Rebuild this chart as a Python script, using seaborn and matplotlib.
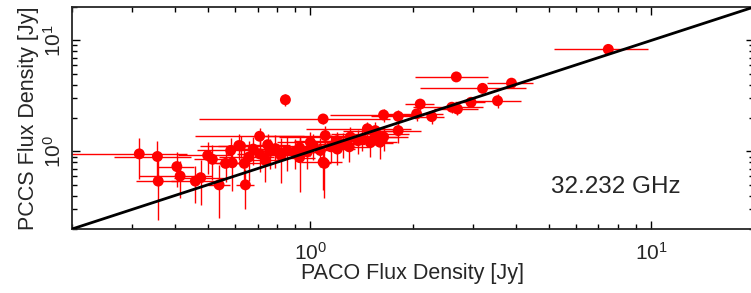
import numpy as np
import pandas as pd
import matplotlib
matplotlib.use("Agg")
import matplotlib.pyplot as plt
import seaborn as sns

sns.set_style("ticks")
plt.rcParams["font.family"] = ["Liberation Sans", "DejaVu Sans"]
plt.rcParams["mathtext.fontset"] = "custom"
plt.rcParams["mathtext.rm"] = "Liberation Sans"
plt.rcParams["axes.linewidth"] = 1.3

# PACO vs PCCS flux densities at 32.232 GHz
paco_flux = [0.315, 0.356, 0.358, 0.406, 0.415, 0.46, 0.477, 0.50, 0.516, 0.54,
             0.564, 0.584, 0.59, 0.617, 0.624, 0.64, 0.645, 0.66, 0.68, 0.71,
             0.71, 0.738, 0.75, 0.76, 0.79, 0.82, 0.845, 0.855, 0.90, 0.93,
             0.93, 0.98, 1.0, 1.02, 1.07, 1.09, 1.09, 1.10, 1.106, 1.15,
             1.197, 1.2, 1.25, 1.3, 1.31, 1.38, 1.42, 1.47, 1.5, 1.55,
             1.55, 1.6, 1.64, 1.64, 1.81, 1.81, 2.05, 2.10, 2.27, 2.6,
             2.70, 2.68, 2.96, 3.2, 3.54, 3.89, 7.48]
pccs_flux = [0.95, 0.90, 0.54, 0.73, 0.60, 0.54, 0.58, 0.92, 0.85, 0.50,
             0.78, 1.02, 0.79, 1.13, 1.12, 0.78, 0.50, 0.89, 1.05, 1.37,
             0.95, 0.83, 1.15, 1.0, 1.06, 0.92, 2.92, 1.02, 0.99, 0.88,
             1.08, 0.99, 1.21, 1.13, 1.02, 1.96, 0.80, 0.78, 1.39, 1.1,
             1.25, 1.05, 1.17, 1.1, 1.35, 1.25, 1.3, 1.6, 1.2, 1.44,
             1.54, 1.21, 2.13, 1.35, 2.07, 1.54, 2.18, 2.67, 2.06, 2.5,
             2.41, 4.69, 2.77, 3.70, 2.86, 4.12, 8.3]
paco_err = [0.12, 0.09, 0.05, 0.05, 0.10, 0.07, 0.08, 0.09, 0.06, 0.04,
            0.05, 0.12, 0.06, 0.08, 0.15, 0.10, 0.04, 0.12, 0.10, 0.25,
            0.10, 0.08, 0.12, 0.10, 0.15, 0.12, 0.02, 0.10, 0.15, 0.10,
            0.12, 0.10, 0.20, 0.30, 0.15, 0.62, 0.15, 0.05, 0.40, 0.20,
            0.30, 0.15, 0.20, 0.20, 0.50, 0.30, 0.20, 0.50, 0.25, 0.40,
            0.30, 0.20, 0.50, 0.30, 0.30, 0.30, 0.40, 0.20, 0.20, 0.60,
            0.40, 0.65, 0.30, 1.10, 0.60, 0.60, 2.30]
pccs_err = [0.38, 0.35, 0.30, 0.25, 0.22, 0.20, 0.25, 0.30, 0.30, 0.25,
            0.25, 0.30, 0.35, 0.30, 0.25, 0.30, 0.20, 0.35, 0.30, 0.25,
            0.30, 0.30, 0.30, 0.30, 0.35, 0.40, 0.35, 0.35, 0.30, 0.45,
            0.30, 0.30, 0.30, 0.30, 0.30, 0.20, 0.35, 0.40, 0.30, 0.30,
            0.25, 0.30, 0.30, 0.30, 0.30, 0.30, 0.30, 0.25, 0.30, 0.30,
            0.30, 0.35, 0.30, 0.35, 0.30, 0.35, 0.30, 0.30, 0.30, 0.30,
            0.30, 0.20, 0.20, 0.30, 0.40, 0.20, 0.30]
axis_range = [0.2, 20]

df = pd.DataFrame({"PACO": paco_flux, "PCCS": pccs_flux,
                   "PACO_err": paco_err, "PCCS_err": pccs_err})

fig = plt.figure(figsize=(7.51, 2.93), dpi=100)
ax = fig.add_axes([0.0959, 0.2184, 0.908, 0.7577])

ax.errorbar(df["PACO"], df["PCCS"], xerr=df["PACO_err"], yerr=df["PCCS_err"],
            fmt="none", ecolor="red", elinewidth=1.0, capsize=0, zorder=2)
sns.scatterplot(data=df, x="PACO", y="PCCS", color="red", s=62,
                edgecolor="none", ax=ax, zorder=3)
ax.plot(axis_range, axis_range, color="black", lw=2, zorder=4)

ax.set_xscale("log")
ax.set_yscale("log")
ax.set_xlim(axis_range)
ax.set_ylim(axis_range)
ax.set_xticks([1, 10])
ax.set_yticks([1, 10])

ax.tick_params(which="both", direction="in", top=True, right=True,
               color="black", width=1.0, labelsize=15)
ax.tick_params(which="major", length=5.5)
ax.tick_params(which="minor", length=3.5)
plt.setp(ax.get_yticklabels(), rotation=90, va="center")
ax.tick_params(axis="x", pad=9)
ax.tick_params(axis="y", pad=5)

ax.set_xlabel("PACO Flux Density [Jy]", fontsize=15.5, labelpad=0)
ax.set_ylabel("PCCS Flux Density [Jy]", fontsize=15.5, labelpad=3)
ax.text(0.703, 0.19, "32.232 GHz", transform=ax.transAxes,
        fontsize=17.5, va="center", ha="left")

fig.savefig("out.png", dpi=100)
